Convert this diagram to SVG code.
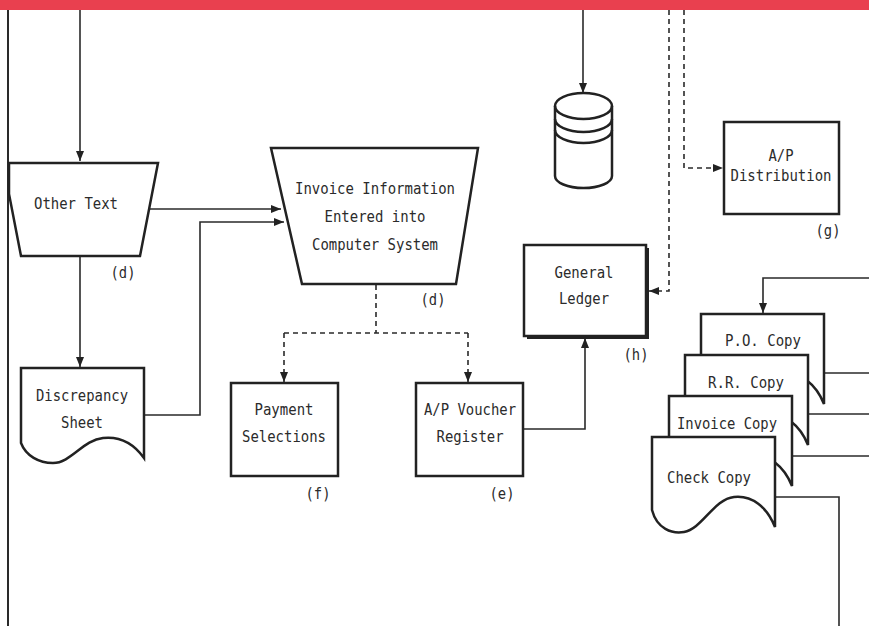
<svg xmlns="http://www.w3.org/2000/svg" width="869" height="626" viewBox="0 0 869 626">
<style>
.shape{fill:#fff;stroke:#222;stroke-width:2.5;stroke-linejoin:miter}
.ln{fill:none;stroke:#2a2a2a;stroke-width:1.6}
.dash{fill:none;stroke:#2a2a2a;stroke-width:1.6;stroke-dasharray:5 4}
text{font-family:"DejaVu Sans Mono","Liberation Mono",monospace;font-size:16px;fill:#2b2b2b;text-anchor:middle}
</style>
<defs>
<marker id="ah" markerUnits="userSpaceOnUse" markerWidth="10" markerHeight="8" refX="10" refY="4" orient="auto">
<path d="M0,0 L10,4 L0,8 Z" fill="#222"/>
</marker>
<path id="doc" d="M0,0 H123 V90 C115,70 100,58 82,60 C62,62 50,92 32,95 C20,97 5,92 0,73 Z"/>
<path id="doc2" d="M0,0 H123 V90 C113,76 100,68 82,70 C62,72 50,95 32,95 C18,95 5,88 0,75 Z"/>
</defs>
<rect x="0" y="0" width="869" height="626" fill="#fff"/>
<rect x="0" y="0" width="869" height="10" fill="#e9404f"/>
<line x1="8" y1="10" x2="8" y2="626" stroke="#2a2a2a" stroke-width="2"/>

<g id="connectors">
<path class="ln" d="M80,10 V161" marker-end="url(#ah)"/>
<path class="ln" d="M583,10 V93" marker-end="url(#ah)"/>
<path class="dash" d="M669,10 V291 H649" marker-end="url(#ah)"/>
<path class="dash" d="M684,10 V168 H723" marker-end="url(#ah)"/>
<path class="ln" d="M150,209 H281" marker-end="url(#ah)"/>
<path class="ln" d="M144,415 H200 V222 H284" marker-end="url(#ah)"/>
<path class="ln" d="M80,256 V367" marker-end="url(#ah)"/>
<path class="dash" d="M376,285 V333"/>
<path class="dash" d="M284,333 H468"/>
<path class="dash" d="M284,333 V382" marker-end="url(#ah)"/>
<path class="dash" d="M468,333 V382" marker-end="url(#ah)"/>
<path class="ln" d="M523,429 H585 V338" marker-end="url(#ah)"/>
<path class="ln" d="M869,278 H763 V313" marker-end="url(#ah)"/>
<path class="ln" d="M824,373 H869"/>
<path class="ln" d="M809,414 H869"/>
<path class="ln" d="M793,456 H869"/>
<path class="ln" d="M776,497 H839 V626"/>
</g>

<g id="other-text">
<polygon class="shape" points="9,163 158,163 140,256 21,256 9,194"/>
<text x="76" y="209" textLength="84" lengthAdjust="spacingAndGlyphs">Other Text</text>
<text x="123" y="278" textLength="25" lengthAdjust="spacingAndGlyphs">(d)</text>
</g>

<g id="invoice-entry">
<polygon class="shape" points="271,148 478,148 456,284 302,284"/>
<text x="375" y="194" textLength="160" lengthAdjust="spacingAndGlyphs">Invoice Information</text>
<text x="375" y="222" textLength="101" lengthAdjust="spacingAndGlyphs">Entered into</text>
<text x="375" y="250" textLength="126" lengthAdjust="spacingAndGlyphs">Computer System</text>
<text x="433" y="305" textLength="25" lengthAdjust="spacingAndGlyphs">(d)</text>
</g>

<g id="database">
<path class="shape" d="M555,106 A28.5,13 0 0 1 612,106 V176 A28.5,12 0 0 1 555,176 Z"/>
<path class="shape" style="fill:none" d="M555,106 A28.5,13 0 0 0 612,106"/>
<path class="shape" style="fill:none" d="M555,119 A28.5,13 0 0 0 612,119"/>
<path class="shape" style="fill:none" d="M555,130 A28.5,13 0 0 0 612,130"/>
</g>

<g id="ap-distribution">
<rect class="shape" x="724" y="122" width="115" height="92"/>
<text x="781" y="161" textLength="25" lengthAdjust="spacingAndGlyphs">A/P</text>
<text x="781" y="181" textLength="101" lengthAdjust="spacingAndGlyphs">Distribution</text>
<text x="828" y="236" textLength="25" lengthAdjust="spacingAndGlyphs">(g)</text>
</g>

<g id="general-ledger">
<rect x="527" y="248" width="122" height="91" fill="#222"/>
<rect class="shape" x="524" y="245" width="122" height="91"/>
<text x="584" y="278" textLength="59" lengthAdjust="spacingAndGlyphs">General</text>
<text x="584" y="304" textLength="50" lengthAdjust="spacingAndGlyphs">Ledger</text>
<text x="636" y="360" textLength="25" lengthAdjust="spacingAndGlyphs">(h)</text>
</g>

<g id="discrepancy-sheet">
<use href="#doc2" class="shape" transform="translate(21,368)"/>
<text x="82" y="401" textLength="92" lengthAdjust="spacingAndGlyphs">Discrepancy</text>
<text x="82" y="428" textLength="42" lengthAdjust="spacingAndGlyphs">Sheet</text>
</g>

<g id="payment-selections">
<rect class="shape" x="231" y="383" width="107" height="93"/>
<text x="284" y="415" textLength="59" lengthAdjust="spacingAndGlyphs">Payment</text>
<text x="284" y="442" textLength="84" lengthAdjust="spacingAndGlyphs">Selections</text>
<text x="318" y="499" textLength="25" lengthAdjust="spacingAndGlyphs">(f)</text>
</g>

<g id="ap-voucher">
<rect class="shape" x="416" y="383" width="107" height="93"/>
<text x="470" y="415" textLength="92" lengthAdjust="spacingAndGlyphs">A/P Voucher</text>
<text x="470" y="442" textLength="67" lengthAdjust="spacingAndGlyphs">Register</text>
<text x="502" y="499" textLength="25" lengthAdjust="spacingAndGlyphs">(e)</text>
</g>

<g id="po-copy">
<use href="#doc" class="shape" transform="translate(701,314)"/>
<text x="763" y="346" textLength="76" lengthAdjust="spacingAndGlyphs">P.O. Copy</text>
</g>
<g id="rr-copy">
<use href="#doc" class="shape" transform="translate(685,355)"/>
<text x="746" y="388" textLength="76" lengthAdjust="spacingAndGlyphs">R.R. Copy</text>
</g>
<g id="invoice-copy">
<use href="#doc" class="shape" transform="translate(669,396)"/>
<text x="727" y="429" textLength="100" lengthAdjust="spacingAndGlyphs">Invoice Copy</text>
</g>
<g id="check-copy">
<use href="#doc" class="shape" transform="translate(652,437)"/>
<text x="709" y="483" textLength="84" lengthAdjust="spacingAndGlyphs">Check Copy</text>
</g>
</svg>
